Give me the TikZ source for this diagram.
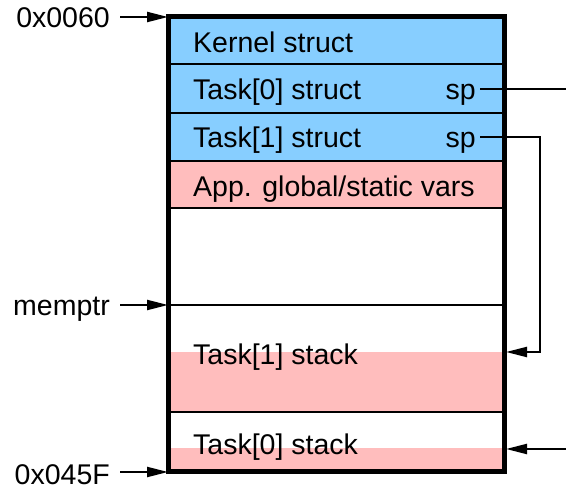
\documentclass[tikz,border=0pt]{standalone}
\usepackage{fontspec}
\setmainfont{Liberation Sans}
\usetikzlibrary{arrows.meta}
\definecolor{structblue}{RGB}{135,206,255}
\definecolor{stackpink}{RGB}{255,189,189}
\begin{document}
\begin{tikzpicture}[x=1pt,y=-1pt,
  lbl/.style={inner sep=0pt,font=\fontsize{28.5}{32}\selectfont},
  rowline/.style={line width=2.2pt},
  conn/.style={line width=2.2pt},
  arr/.style={line width=2.2pt,-{Triangle[length=21pt,width=10pt]}},
  border/.style={line width=5pt}]
\useasboundingbox (0,0) rectangle (566,486);
% fills
\fill[structblue] (168,17) rectangle (504,161);
\fill[stackpink] (168,161) rectangle (504,208);
\fill[stackpink] (168,352) rectangle (504,412);
\fill[stackpink] (168,448) rectangle (504,472);
% row lines
\foreach \yy in {64,113,161,208,305,412}
  \draw[rowline] (168,\yy) -- (504,\yy);
% border
\draw[border] (168,17) rectangle (504,472);
% texts
\node[lbl,anchor=base west] (kern) at (193,53) {Kernel struct};
\node[lbl,anchor=base west] (t0) at (193,100) {Task[0] struct};
\node[lbl,anchor=base west] (t1) at (193,148) {Task[1] struct};
\node[lbl,anchor=base west] (app) at (193,197) {App. global/static vars};
\node[lbl,anchor=base west] (s1) at (193,365) {Task[1] stack};
\node[lbl,anchor=base west] (s0) at (193,455) {Task[0] stack};
\node[lbl,anchor=base east] (sp0) at (476,100) {sp};
\node[lbl,anchor=base east] (sp1) at (476,148) {sp};
\node[lbl,anchor=base east] (a0060) at (110,28) {0x0060};
\node[lbl,anchor=base east] (amem) at (110,316) {memptr};
\node[lbl,anchor=base east] (a045f) at (110,484.5) {0x045F};
% coordinates
\coordinate (e0060) at (168,17);
\coordinate (emem) at (168,305);
\coordinate (e045f) at (168,472);
\coordinate (b0060) at (120,17);
\coordinate (bmem) at (120,305);
\coordinate (b045f) at (120,472);
\coordinate (sp0s) at (480,89);
\coordinate (sp0e) at (566,89);
\coordinate (sp1s) at (480,137);
\coordinate (sp1c) at (540,137);
\coordinate (sp1d) at (540,352);
\coordinate (s1tip) at (506,352);
\coordinate (s0tail) at (566,449);
\coordinate (s0tip) at (506,449);
% connectors
\draw[arr] (b0060) -- (e0060);
\draw[arr] (bmem) -- (emem);
\draw[arr] (b045f) -- (e045f);
\draw[conn] (sp0s) -- (sp0e);
\draw[arr] (sp1s) -- (sp1c) -- (sp1d) -- (s1tip);
\draw[arr] (s0tail) -- (s0tip);
\end{tikzpicture}
\end{document}
